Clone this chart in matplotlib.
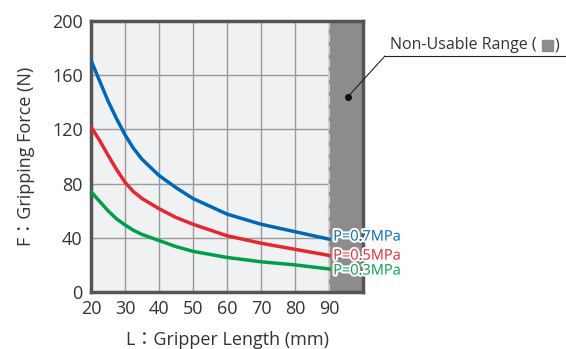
import matplotlib.pyplot as plt
import matplotlib.patheffects as pe
from matplotlib.patches import Rectangle

# 数据
lengths = [20, 22.5, 25, 27.5, 30, 32.5, 35, 40, 45, 50, 60, 70, 80, 90]
force_07 = [171, 156, 141, 128, 116, 106, 98, 86, 77, 69, 57.5, 50, 44.5, 39]
force_05 = [122, 112, 101, 90.5, 81, 74, 69, 61.5, 55, 50, 41.5, 36, 31.5, 27]
force_03 = [74, 67, 60, 54, 49.5, 45.5, 42.5, 38, 33.5, 30, 25.5, 22.3, 20, 17]
labels = ["P=0.7MPa", "P=0.5MPa", "P=0.3MPa"]
colors = ["#0068b7", "#e8262d", "#00a04a"]
x_ticks = [20, 30, 40, 50, 60, 70, 80, 90]
y_ticks = [0, 40, 80, 120, 160, 200]

plt.rcParams['font.family'] = ['Open Sans', 'Noto Sans CJK JP', 'DejaVu Sans']

fig = plt.figure(figsize=(5.66, 3.49), dpi=100)
ax = fig.add_axes([91 / 566, 1 - 292 / 349, 272 / 566, 271 / 349])
ax.set_facecolor("#f0f1f3")

# 不可用区域
ax.axvspan(90, 100, color="#8c8c8d", zorder=1)
ax.axvline(90, color="#d0d0d0", lw=1.5, ls=(0, (4, 2)), zorder=2)

# 曲线
for ys, c in zip([force_07, force_05, force_03], colors):
    ax.plot(lengths, ys, color=c, lw=2.5, zorder=3, solid_joinstyle='round')

# 压力标签
for ys, lab, c, dy in zip([force_07, force_05, force_03], labels, colors, [1.5, -0.5, -1.5]):
    ax.annotate(lab, xy=(90, ys[-1]), xytext=(3, dy), textcoords='offset points',
                color=c, fontsize=10.5, va='center', ha='left', zorder=5,
                path_effects=[pe.withStroke(linewidth=3, foreground='white')])

ax.set_xlim(20, 100)
ax.set_ylim(0, 200)
ax.set_xticks(x_ticks)
ax.set_yticks(y_ticks)
ax.grid(True, color="#9a9a9a", lw=1, zorder=0)
ax.set_axisbelow(True)
ax.tick_params(length=0, labelsize=13, colors="#333333")
ax.tick_params(axis='x', pad=6)
ax.tick_params(axis='y', pad=6)
for s in ax.spines.values():
    s.set_color("#555555")
    s.set_linewidth(2.5)

ax.set_xlabel("L：Gripper Length (mm)", fontsize=13, color="#333333", labelpad=9)
ax.set_ylabel("F：Gripping Force (N)", fontsize=13, color="#333333", labelpad=12)

# 注释：不可用区域
ax.annotate("", xy=(95.5, 144), xytext=(385 / 566, 1 - 56 / 349),
            textcoords='figure fraction',
            arrowprops=dict(arrowstyle='-', color='#222222', lw=0.8, shrinkA=0, shrinkB=0),
            zorder=6)
ax.plot([95.5], [144], 'o', color='#111111', ms=4, zorder=6)
fig.add_artist(plt.Line2D([385 / 566, 1], [1 - 56 / 349] * 2, color='#222222', lw=0.8))
fig.text(390 / 566, 1 - 45 / 349, "Non-Usable Range (", fontsize=11.5, color="#333333",
         va='center', ha='left')
fig.add_artist(Rectangle((542 / 566, 1 - 51 / 349), 11 / 566, 11 / 349,
                         transform=fig.transFigure, color="#8c8c8d"))
fig.text(555 / 566, 1 - 45 / 349, ")", fontsize=11.5, color="#333333",
         va='center', ha='left')

fig.savefig("out.png", dpi=100)
